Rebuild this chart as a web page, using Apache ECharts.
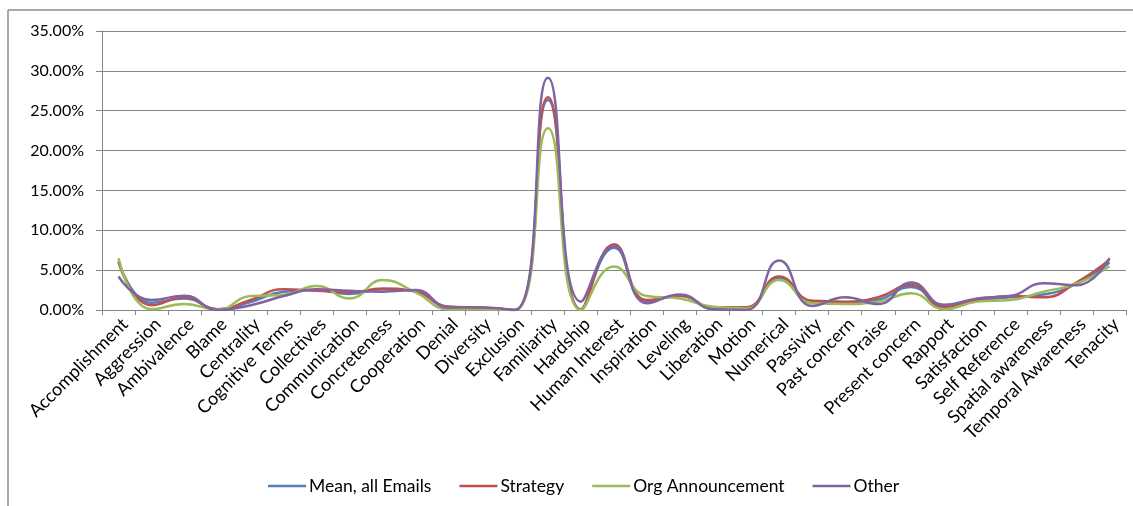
<!DOCTYPE html>
<html>
<head>
<meta charset="utf-8">
<script src="https://cdn.jsdelivr.net/npm/echarts@6/dist/echarts.min.js"></script>
<style>
html,body{margin:0;padding:0;background:#fff;}
#c{width:1133px;height:506px;}
</style>
</head>
<body>
<div id="c"></div>
<script>
const categories = ["Accomplishment","Aggression","Ambivalence","Blame","Centrality","Cognitive Terms","Collectives","Communication","Concreteness","Cooperation","Denial","Diversity","Exclusion","Familiarity","Hardship","Human Interest","Inspiration","Leveling","Liberation","Motion","Numerical","Passivity","Past concern","Praise","Present concern","Rapport","Satisfaction","Self Reference","Spatial awareness","Temporal Awareness","Tenacity"];
const seriesNames = ["Mean, all Emails","Strategy","Org Announcement","Other"];
const meanAll = [6.1,0.9,1.45,0.1,1.0,2.3,2.5,2.0,2.6,2.4,0.4,0.25,0,26.35,0.1,7.8,1.1,1.8,0.3,0.3,4.0,1.1,0.9,1.3,2.9,0.35,1.2,1.6,1.95,3.3,5.95];
const strategy = [6.0,0.6,1.6,0.1,1.25,2.6,2.4,2.2,2.7,2.3,0.4,0.3,0,26.7,0,8.25,1.25,1.8,0.3,0.35,4.2,1.15,1.05,1.6,3.15,0.4,1.25,1.75,1.6,3.45,6.3];
const orgAnnouncement = [6.5,0.1,0.75,0.05,1.75,1.9,3.0,1.45,3.75,2.2,0.1,0.1,0,22.8,0,5.45,1.75,1.45,0.4,0.2,3.75,0.85,0.75,1.05,2.1,0.1,1.05,1.25,2.3,3.3,5.5];
const other = [4.2,1.25,1.8,0,0.6,1.75,2.6,2.4,2.3,2.5,0.3,0.3,0,29.15,1.05,8.0,0.85,1.95,0.1,0,6.2,0.5,1.6,0.75,3.45,0.65,1.45,1.75,3.35,3.1,6.5];
const yTicks = {min:0, max:35, interval:5};

const colors = ["#4F81BD","#C0504D","#9BBB59","#8064A2"];
const values = [meanAll, strategy, orgAnnouncement, other];
const FONT = "Lato";

const chart = echarts.init(document.getElementById('c'), null, {renderer:'canvas'});
chart.setOption({
  animation:false,
  backgroundColor:'#fff',
  textStyle:{fontFamily:FONT},
  graphic:[
    {type:'line', shape:{x1:8,y1:10,x2:1133,y2:10}, style:{stroke:'#8c8c8c',lineWidth:1.5}},
    {type:'line', shape:{x1:8,y1:10,x2:8,y2:506}, style:{stroke:'#8c8c8c',lineWidth:1.5}}
  ],
  grid:{left:102,right:7,top:31,bottom:196,containLabel:false},
  legend:{
    left:263, top:472,
    icon:'rect',
    itemWidth:38, itemHeight:2.5, itemGap:28,
    textStyle:{fontFamily:FONT,fontSize:17.5,color:'#000',padding:[0,0,0,-2]},
    data:seriesNames
  },
  xAxis:{
    type:'category', data:categories, boundaryGap:true,
    axisLine:{lineStyle:{color:'#868686',width:1}},
    axisTick:{show:true,interval:0,length:5,lineStyle:{color:'#868686'}},
    axisLabel:{interval:0,rotate:45,align:'right',verticalAlign:'top',margin:5,fontFamily:FONT,fontSize:18,color:'#000'}
  },
  yAxis:{
    type:'value', min:yTicks.min, max:yTicks.max, interval:yTicks.interval,
    axisLine:{show:true,lineStyle:{color:'#868686',width:1}},
    axisTick:{show:true,length:6,lineStyle:{color:'#868686'}},
    axisLabel:{margin:18,fontFamily:FONT,fontSize:16,color:'#000',formatter:v=>v.toFixed(2)+'%'},
    splitLine:{lineStyle:{color:'#868686',width:1}}
  },
  series: seriesNames.map((n,i)=>({
    name:n, type:'line', data:values[i], smooth:0.5, symbol:'none',
    lineStyle:{color:colors[i],width:2.5}, itemStyle:{color:colors[i]}
  }))
});
</script>
</body>
</html>
